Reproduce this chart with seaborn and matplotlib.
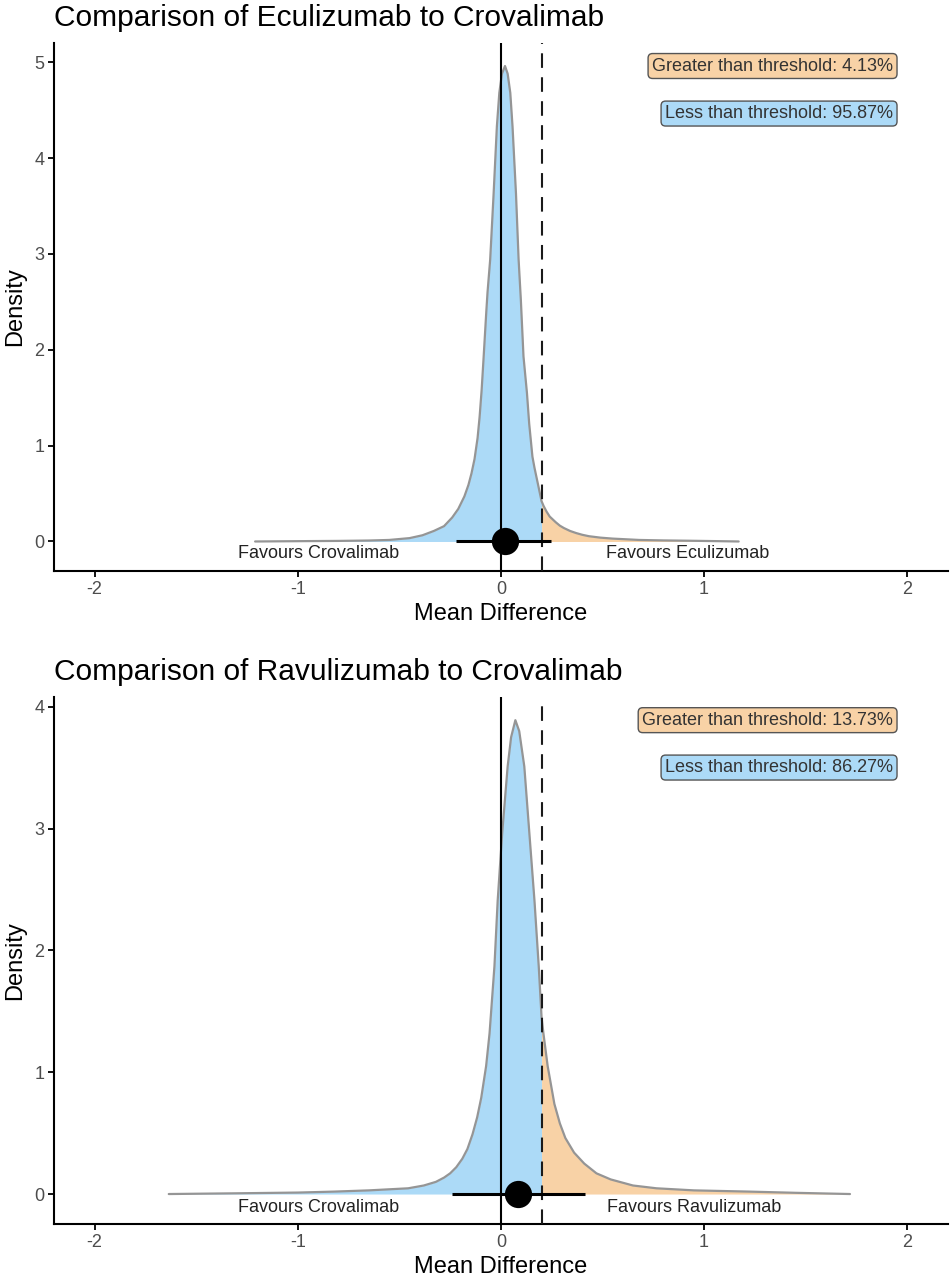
import numpy as np
import pandas as pd
import matplotlib
matplotlib.use("Agg")
import matplotlib.pyplot as plt
import seaborn as sns

# ---------------- data ----------------
threshold = 0.2

titles = ["Comparison of Eculizumab to Crovalimab",
          "Comparison of Ravulizumab to Crovalimab"]
favours_left = ["Favours Crovalimab", "Favours Crovalimab"]
favours_right = ["Favours Eculizumab", "Favours Ravulizumab"]
greater_labels = ["Greater than threshold: 4.13%", "Greater than threshold: 13.73%"]
less_labels = ["Less than threshold: 95.87%", "Less than threshold: 86.27%"]

# density curve: Eculizumab vs Crovalimab
ecu_x = [-1.21, -0.95, -0.80, -0.65, -0.55, -0.45, -0.386, -0.33, -0.28, -0.24,
         -0.21, -0.18, -0.16, -0.145, -0.13, -0.115, -0.105, -0.095,
         -0.085, -0.072, -0.066, -0.053, -0.036, -0.02, -0.008, 0.005, 0.02,
         0.033, 0.046, 0.057, 0.074, 0.087, 0.098, 0.111, 0.128, 0.139, 0.155,
         0.165, 0.175, 0.185, 0.2, 0.21, 0.225, 0.24, 0.255, 0.27, 0.29, 0.31,
         0.34, 0.37, 0.40, 0.433, 0.49, 0.55, 0.68, 0.80, 0.92, 1.05, 1.17]
ecu_d = [0.0, 0.004, 0.006, 0.010, 0.016, 0.035, 0.065, 0.11, 0.16, 0.25,
         0.34, 0.47, 0.59, 0.71, 0.86, 1.08, 1.30, 1.58,
         1.93, 2.40, 2.60, 2.94, 3.63, 4.33, 4.68, 4.88, 4.96,
         4.88, 4.68, 4.33, 3.63, 2.94, 2.52, 1.93, 1.55, 1.23, 0.885,
         0.77, 0.67, 0.57, 0.42, 0.37, 0.31, 0.26, 0.23, 0.20, 0.165, 0.14,
         0.11, 0.088, 0.07, 0.055, 0.04, 0.03, 0.016, 0.011, 0.008, 0.004, 0.0]
ecu_mean = 0.02
ecu_ci = [-0.221, 0.245]

# density curve: Ravulizumab vs Crovalimab
rav_x = [-1.635, -1.3, -1.0, -0.82, -0.65, -0.457, -0.38, -0.32, -0.28, -0.25,
         -0.22, -0.19, -0.165, -0.14, -0.117, -0.097, -0.073, -0.056, -0.032,
         -0.016, 0.006, 0.033, 0.05, 0.071, 0.09, 0.115, 0.14, 0.165, 0.186,
         0.2, 0.209, 0.23, 0.263, 0.29, 0.317, 0.36, 0.41, 0.47, 0.54, 0.65,
         0.766, 0.95, 1.22, 1.45, 1.718]
rav_d = [0.0, 0.006, 0.012, 0.02, 0.03, 0.047, 0.07, 0.10, 0.135, 0.17,
         0.22, 0.29, 0.37, 0.49, 0.63, 0.79, 1.05, 1.32, 1.87,
         2.41, 2.96, 3.51, 3.75, 3.89, 3.80, 3.51, 2.96, 2.41, 1.87,
         1.45, 1.32, 1.05, 0.74, 0.58, 0.46, 0.34, 0.25, 0.17, 0.12, 0.07,
         0.047, 0.03, 0.02, 0.01, 0.0]
rav_mean = 0.085
rav_ci = [-0.243, 0.415]

panels = [
    dict(x=ecu_x, d=ecu_d, mean=ecu_mean, ci=ecu_ci, ylim=(-0.308, 5.20),
         yticks=[0, 1, 2, 3, 4, 5], fav_y=-0.13, fav_lx=-0.90, fav_rx=0.92),
    dict(x=rav_x, d=rav_d, mean=rav_mean, ci=rav_ci, ylim=(-0.246, 4.08),
         yticks=[0, 1, 2, 3, 4], fav_y=-0.107, fav_lx=-0.90, fav_rx=0.95),
]

# ---------------- style ----------------
sns.set_style("ticks")
plt.rcParams["font.family"] = ["Liberation Sans", "DejaVu Sans"]

blue = "#acdaf7"
orange = "#f8d2a6"
outline = "#959595"

fig = plt.figure(figsize=(9.52, 12.8), dpi=100)
axes = [fig.add_axes([0.0567, 0.5539, 0.939, 0.4125]),
        fig.add_axes([0.0567, 0.04375, 0.939, 0.4117])]

for i, (ax, p) in enumerate(zip(axes, panels)):
    xs = np.array(p["x"])
    ds = np.array(p["d"])
    df = pd.DataFrame({"Mean Difference": xs, "Density": ds})

    ax.fill_between(xs, ds, where=xs <= threshold, color=blue, lw=0, zorder=1)
    ax.fill_between(xs, ds, where=xs >= threshold, color=orange, lw=0, zorder=1)
    sns.lineplot(data=df, x="Mean Difference", y="Density", sort=False,
                 color=outline, lw=1.6, ax=ax, zorder=2)

    ax.axvline(0, color="black", lw=1.5, zorder=3)
    ax.axvline(threshold, color="#1a1a1a", lw=1.5, ls=(0, (7, 4.5)), zorder=3)

    ax.plot(p["ci"], [0, 0], color="black", lw=2.2, solid_capstyle="butt", zorder=4)
    sns.scatterplot(x=[p["mean"]], y=[0], s=330, color="black", edgecolor="black",
                    ax=ax, zorder=5, legend=False)

    dmax = ds.max()
    ax.text(1.93, dmax, greater_labels[i], ha="right", va="center", fontsize=13,
            color="#333333", zorder=6,
            bbox=dict(boxstyle="round,pad=0.22,rounding_size=0.25", fc=orange,
                      ec="#555555", lw=1.0))
    ax.text(1.93, dmax * 0.9, less_labels[i], ha="right", va="center", fontsize=13,
            color="#333333", zorder=6,
            bbox=dict(boxstyle="round,pad=0.22,rounding_size=0.25", fc=blue,
                      ec="#555555", lw=1.0))

    ax.text(p["fav_lx"], p["fav_y"], favours_left[i], ha="center", va="center",
            fontsize=13, color="#222222")
    ax.text(p["fav_rx"], p["fav_y"], favours_right[i], ha="center", va="center",
            fontsize=13, color="#222222")

    ax.set_xlim(-2.2, 2.2)
    ax.set_ylim(*p["ylim"])
    ax.set_xticks([-2, -1, 0, 1, 2])
    ax.set_xticklabels(["-2", "-1", "0", "1", "2"])
    ax.set_yticks(p["yticks"])
    ax.tick_params(axis="both", labelsize=13, labelcolor="#4d4d4d", color="black",
                   length=4, width=1.3, pad=3)
    ax.set_xlabel("Mean Difference", fontsize=17, color="black", labelpad=4)
    ax.set_ylabel("Density", fontsize=17, color="black", labelpad=6)
    ax.set_title(titles[i], loc="left", fontsize=21.5, color="black", pad=12, x=0.0)
    sns.despine(ax=ax)
    for s in ["left", "bottom"]:
        ax.spines[s].set_linewidth(1.5)
        ax.spines[s].set_color("black")

fig.savefig("out.png", dpi=100)
